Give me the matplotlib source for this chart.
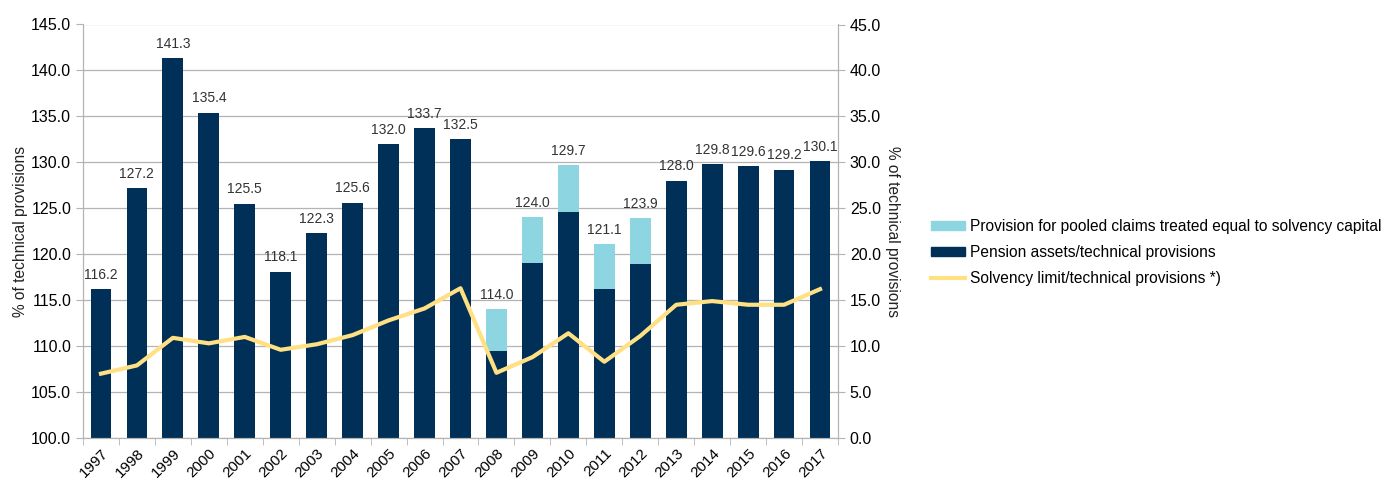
import matplotlib
matplotlib.use("Agg")
import matplotlib.pyplot as plt
import numpy as np
from matplotlib.patches import Patch
from matplotlib.lines import Line2D

plt.rcParams['font.family'] = ['Liberation Sans', 'DejaVu Sans']

years = [str(y) for y in range(1997, 2018)]
totals = [116.2, 127.2, 141.3, 135.4, 125.5, 118.1, 122.3, 125.6, 132.0, 133.7, 132.5,
          114.0, 124.0, 129.7, 121.1, 123.9, 128.0, 129.8, 129.6, 129.2, 130.1]
pension_assets = [116.2, 127.2, 141.3, 135.4, 125.5, 118.1, 122.3, 125.6, 132.0, 133.7, 132.5,
                  109.5, 119.0, 124.6, 116.2, 118.9, 128.0, 129.8, 129.6, 129.2, 130.1]
solvency_limit = [7.0, 7.9, 10.9, 10.3, 11.0, 9.6, 10.2, 11.2, 12.8, 14.1, 16.3,
                  7.1, 8.8, 11.4, 8.3, 11.1, 14.5, 14.9, 14.5, 14.5, 16.2]

dark = '#003057'
light = '#8dd5e1'
yellow = '#ffe083'
grid = '#b3b3b3'

fig = plt.figure(figsize=(13.81, 4.79), dpi=100)
ax = fig.add_axes([83/1381, 1-438/479, (838-83)/1381, (438-24.5)/479])
ax2 = ax.twinx()

x = np.arange(len(years))
pooled = [t - p for t, p in zip(totals, pension_assets)]
w = 0.58
ax.bar(x, [p - 100 for p in pension_assets], bottom=100, width=w, color=dark, zorder=2)
ax.bar(x, pooled, bottom=pension_assets, width=w, color=light, zorder=2)
for xi, t in zip(x, totals):
    ax.text(xi, t + 0.8, f"{t:.1f}", ha='center', va='bottom', fontsize=10, color='#333333')

ax.set_ylim(100, 145)
ax.set_xlim(-0.5, len(years) - 0.5)
ax.set_yticks(np.arange(100, 145.1, 5))
ax.set_yticklabels([f"{v:.1f}" for v in np.arange(100, 145.1, 5)])
ax.yaxis.grid(True, color=grid, linewidth=0.9, zorder=0)
ax.set_axisbelow(True)
ax.set_xticks(x)
ax.set_xticklabels(years, rotation=45, ha='right', rotation_mode='anchor')
ax.set_xticks(np.arange(-0.5, len(years)), minor=True)
ax.tick_params(axis='x', which='major', length=0, labelsize=11, pad=6)
ax.tick_params(axis='x', which='minor', length=5, color=grid)
ax.tick_params(axis='y', labelsize=11.5, length=5, color=grid)
ax.set_ylabel('% of technical provisions', fontsize=11.2, color='#222222', labelpad=2.5)

ax2.plot(x, solvency_limit, color=yellow, linewidth=3, zorder=3)
ax2.set_ylim(0, 45)
ax2.set_yticks(np.arange(0, 45.1, 5))
ax2.set_yticklabels([f"{v:.1f}" for v in np.arange(0, 45.1, 5)])
ax2.tick_params(axis='y', labelsize=11.5, length=5, color=grid)
ax2.set_ylabel('% of technical provisions', fontsize=11.2, rotation=-90, labelpad=14, color='#222222')

for a in (ax, ax2):
    a.spines['top'].set_visible(False)
    for s in ('left', 'right', 'bottom'):
        a.spines[s].set_color(grid)

handles = [Patch(color=light), Patch(color=dark), Line2D([0], [0], color=yellow, linewidth=3)]
labels = ['Provision for pooled claims treated equal to solvency capital',
          'Pension assets/technical provisions',
          'Solvency limit/technical provisions *)']
fig.legend(handles, labels, loc='upper left', bbox_to_anchor=(917/1381, 1-205/479),
           frameon=False, fontsize=11.2, handlelength=2.2, handleheight=0.5,
           labelspacing=0.7, handletextpad=0.3)

fig.savefig('out.png', dpi=100)
